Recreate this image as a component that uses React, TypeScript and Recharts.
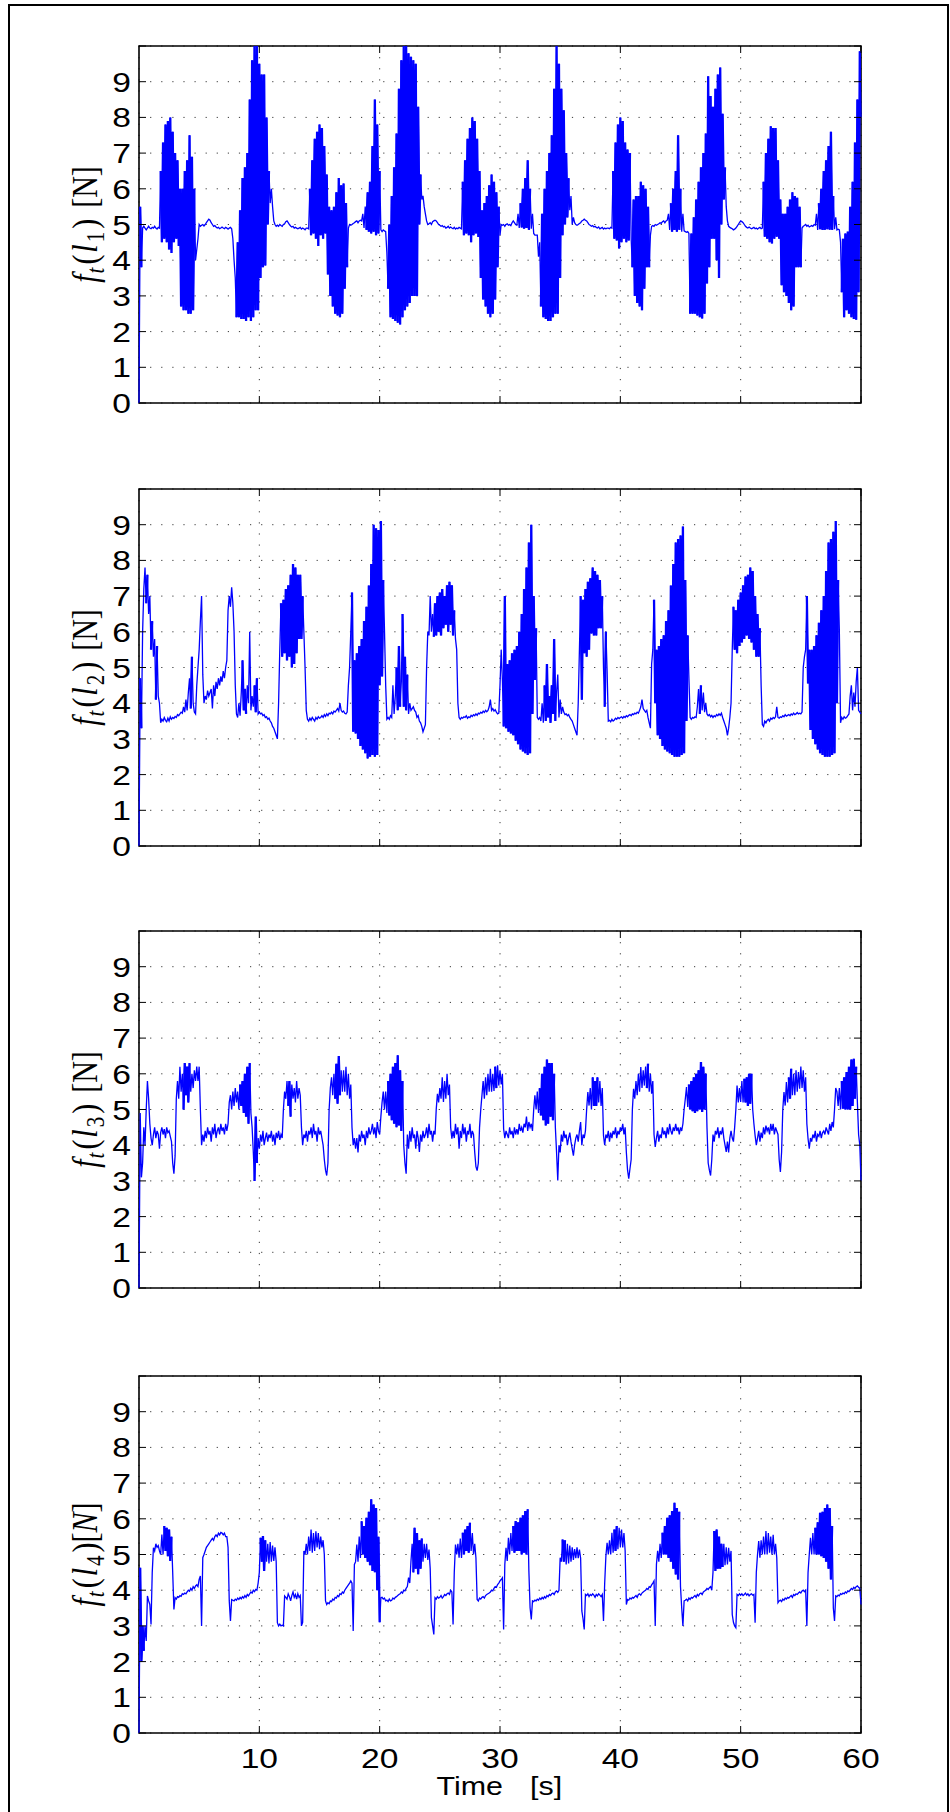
import {
  LineChart,
  Line,
  XAxis,
  YAxis,
  CartesianGrid,
  ReferenceArea,
} from "recharts";

// sample step of the recorded signals, seconds
const DT = 0.1;

const X_TICKS = [10, 20, 30, 40, 50, 60];
const Y_TICKS = [0, 1, 2, 3, 4, 5, 6, 7, 8, 9, 10];

// f_t(l1) [N]
const L1 = [
  0, 5.5, 3.8, 4.9, 4.95, 4.9, 4.85, 4.9, 4.95, 4.9,
  4.88, 4.92, 4.9, 4.95, 4.9, 4.87, 4.92, 4.9, 6.5, 4.5,
  7.3, 4.6, 7.8, 4.5, 7.9, 4.3, 8.0, 4.2, 7.6, 4.5,
  7.0, 4.6, 6.8, 4.4, 6.0, 2.7, 6.0, 2.6, 6.5, 2.6,
  6.8, 2.5, 7.5, 2.5, 6.9, 2.6, 6.0, 4.0, 4.3, 4.6,
  5.0, 4.95, 4.98, 5.0, 4.96, 5.0, 5.05, 5.1, 5.15, 5.12,
  5.05, 5.0, 4.95, 4.97, 4.93, 4.9, 4.92, 4.88, 4.9, 4.93,
  4.9, 4.88, 4.92, 4.9, 4.87, 4.9, 4.92, 4.88, 4.6, 4.0,
  3.5, 2.4, 4.5, 2.4, 5.4, 2.35, 6.3, 2.35, 6.6, 2.3,
  7.0, 2.4, 8.5, 2.3, 9.6, 2.4, 10, 2.6, 10, 2.6,
  9.5, 3.5, 9.2, 3.8, 9.2, 3.85, 8.0, 5.0, 6.5, 5.6,
  6.0, 5.5, 5.1, 5.0, 4.95, 4.98, 4.95, 5.0, 4.97, 4.95,
  5.0, 5.02, 5.08, 5.1, 5.05, 5.0, 4.96, 4.93, 4.95, 4.9,
  4.92, 4.9, 4.88, 4.9, 4.92, 4.87, 4.9, 4.88, 4.85, 4.9,
  4.9, 4.88, 6.0, 4.7, 6.8, 4.75, 7.4, 4.6, 7.6, 4.4,
  7.8, 4.7, 7.7, 4.6, 7.2, 4.75, 6.4, 3.6, 5.5, 3.0,
  5.4, 2.7, 5.5, 2.5, 5.9, 2.45, 6.3, 2.4, 6.1, 2.5,
  6.15, 3.2, 5.6, 3.8, 4.9, 5.0, 4.98, 5.0, 5.03, 5.05,
  5.08, 5.1, 5.05, 5.1, 5.12, 5.1, 5.3, 4.9, 5.5, 4.85,
  5.9, 4.8, 6.2, 4.75, 7.2, 4.8, 8.5, 4.7, 7.8, 4.75,
  6.5, 4.85, 4.8, 4.85, 4.82, 4.8, 4.2, 3.2, 5.0, 2.4,
  5.8, 2.35, 6.6, 2.3, 7.55, 2.25, 8.8, 2.2, 9.6, 2.4,
  10, 2.6, 10, 2.7, 9.8, 2.8, 9.7, 3.0, 9.6, 3.0,
  9.5, 3.0, 8.3, 5.0, 6.4, 5.7, 5.8, 5.5, 5.3, 5.1,
  5.0, 5.02, 5.05, 5.0, 5.08, 5.1, 5.12, 5.1, 5.05, 5.0,
  4.98, 4.95, 4.97, 4.93, 4.95, 4.9, 4.92, 4.95, 4.9, 4.93,
  4.9, 4.88, 4.92, 4.87, 4.9, 4.88, 4.92, 4.9, 4.88, 6.2,
  4.7, 6.8, 4.75, 7.4, 4.7, 7.7, 4.5, 8.0, 4.7, 7.9,
  4.75, 7.4, 4.65, 6.5, 3.5, 5.4, 2.9, 5.6, 2.7, 5.8,
  2.5, 6.1, 2.4, 6.4, 2.5, 6.2, 2.9, 5.9, 3.8, 5.5,
  4.7, 5.0, 4.98, 5.0, 4.95, 5.0, 5.02, 4.98, 5.0, 4.97,
  5.05, 5.1, 5.05, 5.0, 4.98, 5.3, 4.9, 5.6, 4.92, 6.0,
  4.88, 6.3, 4.9, 6.8, 4.85, 6.0, 4.88, 5.3, 4.75, 4.7,
  4.7, 4.7, 4.1, 4.5, 2.7, 5.3, 2.4, 6.0, 2.35, 6.5,
  2.3, 7.0, 2.3, 7.5, 2.4, 8.8, 2.5, 10, 2.5, 9.5,
  3.5, 8.8, 4.7, 8.2, 5.0, 7.0, 5.2, 6.3, 5.4, 5.8,
  5.0, 5.2, 5.05, 5.0, 4.98, 5.0, 5.03, 5.05, 5.1, 5.12,
  5.15, 5.12, 5.1, 5.05, 5.0, 4.98, 4.95, 4.97, 4.93, 4.95,
  4.92, 4.9, 4.93, 4.88, 4.9, 4.92, 4.87, 4.9, 4.88, 4.9,
  4.9, 4.88, 4.92, 4.9, 6.5, 4.6, 7.3, 4.55, 7.8, 4.33,
  8.0, 4.5, 7.9, 4.6, 7.3, 4.5, 7.1, 4.55, 7.0, 4.6,
  3.8, 5.7, 3.0, 5.8, 2.8, 5.8, 2.7, 6.2, 2.6, 6.1,
  3.2, 6.0, 3.8, 5.5, 3.8, 4.7, 4.95, 4.97, 4.95, 5.0,
  4.98, 5.0, 5.02, 5.05, 5.03, 5.08, 5.1, 5.05, 5.1, 5.12,
  5.3, 4.85, 5.6, 4.8, 6.0, 4.85, 6.5, 4.8, 7.5, 4.85,
  6.0, 4.8, 5.3, 4.82, 4.8, 4.78, 4.8, 4.75, 2.5, 4.75,
  2.5, 5.2, 2.5, 5.7, 2.45, 6.2, 2.4, 6.6, 2.37, 7.0,
  2.5, 7.55, 3.35, 9.15, 3.8, 8.6, 4.6, 8.3, 4.6, 8.8,
  4.0, 9.2, 3.5, 9.4, 5.0, 8.1, 5.7, 6.6, 5.5, 5.1,
  4.95, 4.92, 4.9, 4.88, 4.85, 4.87, 4.9, 4.95, 5.0, 5.05,
  5.1, 5.08, 5.05, 5.0, 4.95, 4.92, 4.9, 4.93, 4.9, 4.88,
  4.9, 4.92, 4.88, 4.9, 4.87, 4.9, 4.92, 4.88, 4.9, 6.2,
  4.66, 7.0, 4.6, 7.4, 4.5, 7.75, 4.47, 7.7, 4.6, 7.7,
  4.66, 6.8, 4.6, 5.7, 3.3, 5.3, 3.1, 5.3, 3.0, 5.5,
  2.8, 5.7, 2.6, 5.9, 2.7, 5.8, 3.8, 5.75, 3.8, 5.5,
  3.8, 4.9, 4.95, 4.97, 5.0, 4.95, 4.98, 4.93, 4.95, 4.97,
  4.95, 5.0, 4.98, 5.3, 4.85, 5.6, 4.87, 6.0, 4.85, 6.5,
  4.85, 6.8, 4.87, 7.2, 4.85, 7.6, 4.85, 5.8, 4.87, 5.2,
  4.85, 4.87, 4.85, 4.5, 3.1, 4.6, 2.4, 4.75, 2.6, 4.8,
  2.5, 5.5, 2.4, 6.2, 2.35, 7.3, 2.33, 8.5, 3.1, 9.85,
  8.0,
];

// f_t(l2) [N]
const L2 = [
  0, 4.7, 3.3, 6.0, 7.2, 7.8, 6.8, 7.6, 6.5, 7.0,
  5.5, 6.3, 5.3, 5.8, 4.1, 5.6, 4.2, 4.0, 3.45, 3.55,
  3.5, 3.6, 3.52, 3.48, 3.58, 3.5, 3.62, 3.55, 3.6, 3.57,
  3.63, 3.6, 3.68, 3.65, 3.7, 3.75, 3.72, 3.9, 3.75, 4.1,
  3.8, 4.3, 4.7, 3.85, 5.3, 4.0, 3.75, 3.7, 4.5, 5.0,
  5.5, 6.3, 7.0, 4.8, 4.0, 4.2, 4.1, 4.35, 4.2, 4.3,
  4.4, 3.85, 4.5, 4.2, 4.6, 4.4, 4.7, 4.5, 4.75, 4.6,
  4.9, 4.7, 5.0, 5.2, 6.6, 7.0, 6.7, 7.25, 6.8, 6.0,
  4.5, 3.7, 3.6, 4.0, 3.65, 4.3, 5.2, 3.8, 4.4, 3.7,
  4.5, 4.0, 6.0, 3.8, 4.2, 3.9, 4.5, 3.75, 4.7, 3.7,
  3.75, 3.7, 3.72, 3.65, 3.68, 3.6, 3.62, 3.55, 3.58, 3.5,
  3.45, 3.35, 3.3, 3.2, 3.1, 3.0, 4.0, 5.5, 6.8, 5.3,
  6.9, 5.4, 7.2, 5.2, 7.3, 5.3, 7.6, 5.0, 7.9, 5.1,
  7.8, 5.4, 7.6, 5.8, 7.6, 5.8, 7.0, 6.0, 5.0, 3.8,
  3.55, 3.5, 3.58, 3.52, 3.6, 3.55, 3.5, 3.6, 3.55, 3.62,
  3.58, 3.6, 3.65, 3.6, 3.68, 3.63, 3.7, 3.65, 3.72, 3.7,
  3.75, 3.7, 3.78, 3.75, 3.8, 3.85, 3.78, 4.0, 3.8, 3.75,
  3.78, 3.72, 3.7, 3.75, 4.5, 5.0, 6.0, 7.1, 3.2, 5.2,
  3.15, 5.4, 3.0, 5.6, 2.8, 5.8, 2.7, 6.3, 2.6, 6.7,
  2.45, 7.3, 2.5, 7.9, 2.55, 9.0, 2.5, 8.9, 2.55, 8.85,
  4.5, 9.1, 4.75, 7.45, 6.05, 4.5, 3.55, 3.6, 3.55, 3.65,
  3.6, 4.5, 3.7, 4.2, 5.0, 3.8, 5.6, 3.9, 4.6, 6.5,
  3.9, 5.3, 3.8, 4.8, 3.7, 4.0, 3.8, 3.85, 3.9, 3.8,
  3.75, 3.6, 3.65, 3.5, 3.45, 3.35, 3.2, 3.3, 3.4, 5.0,
  6.0, 5.9, 7.0, 6.0, 6.5, 5.86, 6.8, 5.9, 7.0, 6.0,
  7.1, 5.9, 7.2, 6.1, 7.0, 6.2, 7.3, 6.0, 7.4, 6.2,
  7.3, 5.9, 6.6, 5.8, 5.5, 4.0, 3.6, 3.55, 3.6, 3.58,
  3.62, 3.6, 3.65, 3.58, 3.62, 3.6, 3.66, 3.63, 3.68, 3.65,
  3.7, 3.66, 3.72, 3.7, 3.75, 3.72, 3.78, 3.74, 3.8, 3.76,
  3.8, 3.9, 4.1, 3.8, 3.85, 3.78, 3.82, 3.75, 3.7, 3.72,
  4.5, 5.5, 4.65, 3.35, 7.0, 3.3, 5.1, 3.2, 5.2, 3.15,
  5.4, 3.1, 5.5, 2.95, 5.6, 2.85, 6.0, 2.7, 6.5, 2.65,
  7.2, 2.6, 7.8, 2.55, 8.5, 2.6, 9.0, 3.7, 7.0, 4.65,
  6.1, 3.6, 3.55, 3.6, 3.5, 4.0, 3.45, 4.5, 3.5, 5.1,
  3.6, 4.2, 3.45, 4.5, 3.7, 5.8, 3.5, 4.3, 4.8, 3.6,
  4.1, 3.7, 3.9, 3.75, 3.68, 3.7, 3.65, 3.68, 3.6, 3.55,
  3.5, 3.4, 3.3, 3.2, 3.1, 4.0, 5.5, 7.0, 4.1, 6.9,
  5.4, 7.2, 5.3, 7.4, 5.5, 7.5, 5.95, 7.8, 5.9, 7.7,
  5.9, 7.6, 6.1, 7.45, 6.1, 7.0, 5.0, 3.9, 6.0, 4.9,
  3.5, 3.52, 3.48, 3.55, 3.5, 3.53, 3.58, 3.55, 3.6, 3.57,
  3.6, 3.62, 3.58, 3.63, 3.6, 3.65, 3.62, 3.66, 3.68, 3.65,
  3.7, 3.68, 3.72, 3.7, 3.75, 3.72, 3.8, 3.9, 4.1, 3.85,
  3.8, 3.75, 3.8, 3.6, 3.45, 3.3, 5.1, 5.5, 6.9, 4.0,
  5.5, 3.1, 5.6, 3.0, 5.8, 2.8, 5.9, 2.7, 6.3, 2.65,
  6.6, 2.6, 7.3, 2.55, 7.9, 2.5, 8.5, 2.5, 8.6, 2.5,
  8.7, 2.55, 8.95, 2.6, 7.45, 3.5, 5.9, 4.7, 3.6, 3.55,
  3.6, 3.58, 3.62, 3.6, 3.9, 4.4, 3.7, 4.5, 3.8, 4.3,
  3.75, 4.0, 3.7, 3.65, 3.68, 3.62, 3.66, 3.6, 3.65, 3.62,
  3.68, 3.65, 3.7, 3.66, 3.72, 3.6, 3.5, 3.4, 3.3, 3.1,
  3.3, 3.6, 4.0, 5.5, 6.7, 5.5, 6.6, 5.4, 6.9, 5.6,
  7.1, 5.7, 7.3, 5.8, 7.55, 5.9, 7.6, 5.8, 7.8, 5.7,
  7.7, 5.5, 7.0, 5.3, 6.5, 5.3, 6.1, 4.5, 3.4, 3.35,
  3.5, 3.45, 3.52, 3.55, 3.5, 3.58, 3.55, 3.6, 3.57, 3.62,
  3.9, 3.6, 3.58, 3.62, 3.6, 3.65, 3.62, 3.68, 3.64, 3.66,
  3.68, 3.65, 3.7, 3.67, 3.72, 3.68, 3.7, 3.74, 3.7, 3.72,
  3.7, 3.75, 5.0, 5.3, 5.5, 7.0, 4.55, 5.5, 3.25, 5.5,
  3.0, 5.6, 2.85, 5.9, 2.7, 6.25, 2.6, 6.6, 2.55, 7.0,
  2.5, 7.7, 2.5, 8.5, 2.5, 8.6, 2.55, 8.8, 2.6, 9.1,
  4.0, 7.45, 6.05, 3.45, 3.6, 3.55, 3.62, 3.58, 3.6, 3.65,
  3.7, 4.2, 4.5, 3.8, 4.3, 3.9, 4.6, 5.0, 3.8, 3.75,
  3.7,
];

// f_t(l3) [N]
const L3 = [
  0, 4.9, 3.1, 3.5, 4.5, 4.0, 5.0, 5.8, 5.3, 4.6,
  4.2, 4.0, 4.3, 4.5, 4.2, 4.4, 4.3, 3.9, 4.35, 4.5,
  4.3, 4.45, 4.2, 4.5, 4.35, 4.4, 4.25, 4.1, 3.5, 3.2,
  3.7, 5.3, 5.8, 5.3, 6.2, 5.5, 6.0, 5.0, 6.3, 5.4,
  6.2, 5.2, 6.3, 5.5, 6.0, 5.6, 6.1, 5.8, 6.2, 5.8,
  6.2, 5.0, 4.0, 4.3, 4.1, 4.4, 4.2, 4.5, 4.3, 4.4,
  4.1, 4.5, 4.3, 4.6, 4.2, 4.4, 4.5, 4.3, 4.6, 4.4,
  4.5, 4.3, 4.6, 4.4, 4.6, 5.2, 5.4, 5.0, 5.5, 5.1,
  5.6, 5.2, 5.5, 5.0, 5.7, 5.1, 5.8, 4.9, 6.0, 4.8,
  6.2, 4.6, 6.3, 4.9, 4.5, 3.8, 3.0, 4.8, 3.5, 4.2,
  3.9, 4.3, 4.1, 4.4, 4.0, 4.2, 4.35, 4.1, 4.3, 4.2,
  4.4, 4.1, 4.3, 4.0, 4.35, 4.2, 4.4, 4.15, 4.3, 4.2,
  5.0, 5.5, 5.3, 5.8, 5.1, 5.8, 4.8, 5.7, 5.3, 5.6,
  5.2, 5.8, 5.3, 5.6, 5.4, 4.5, 4.0, 4.3, 4.2, 4.4,
  4.1, 4.4, 4.3, 4.5, 4.2, 4.6, 4.3, 4.4, 4.1, 4.5,
  4.3, 4.4, 4.2, 4.0, 3.6, 3.3, 3.15, 3.5, 5.0, 5.6,
  5.9, 5.4, 6.0, 5.3, 6.28, 5.16, 6.5, 5.4, 6.1, 5.5,
  6.1, 5.5, 6.2, 5.4, 6.0, 5.3, 5.7, 4.5, 4.0, 4.2,
  3.9, 4.2, 3.8, 4.3, 4.1, 4.4, 4.2, 4.3, 4.0, 4.4,
  4.2, 4.5, 4.3, 4.4, 4.6, 4.3, 4.5, 4.2, 4.65, 4.4,
  4.3, 4.8, 5.2, 5.5, 5.0, 5.5, 4.9, 5.8, 4.83, 6.0,
  4.7, 6.2, 4.6, 6.3, 4.5, 6.52, 4.55, 6.1, 4.4, 5.8,
  4.0, 3.5, 3.2, 4.3, 3.9, 4.4, 4.1, 4.5, 4.2, 4.3,
  3.9, 4.4, 4.2, 3.81, 4.3, 4.1, 4.4, 4.2, 4.3, 4.5,
  4.2, 4.6, 4.3, 4.4, 4.1, 4.4, 4.3, 5.0, 5.44, 5.2,
  5.6, 5.3, 5.9, 5.21, 5.8, 5.3, 6.0, 5.4, 5.7, 4.5,
  4.18, 4.4, 4.2, 4.6, 4.3, 4.5, 3.9, 4.4, 4.2, 4.6,
  4.3, 4.5, 4.1, 4.4, 4.3, 4.6, 4.2, 4.4, 4.3, 3.8,
  3.4, 3.29, 3.5, 4.5, 5.0, 5.4, 5.8, 5.3, 5.9, 5.4,
  6.0, 5.5, 6.14, 5.5, 6.0, 5.52, 6.2, 5.6, 6.24, 5.67,
  6.1, 5.7, 6.0, 4.46, 4.2, 4.4, 4.3, 4.2, 4.5, 4.3,
  4.4, 4.2, 4.5, 4.3, 4.45, 4.3, 4.6, 4.4, 4.5, 4.35,
  4.6, 4.5, 4.8, 4.4, 4.65, 4.5, 4.6, 4.4, 5.0, 5.4,
  5.0, 5.5, 4.9, 5.6, 4.83, 6.0, 4.7, 6.2, 4.55, 6.4,
  4.6, 6.3, 4.8, 6.3, 4.7, 6.0, 4.5, 3.8, 3.01, 4.0,
  3.8, 4.3, 4.1, 4.4, 4.2, 4.3, 4.0, 4.2, 4.35, 4.1,
  3.9, 3.71, 4.0, 4.2, 4.3, 4.1, 4.4, 4.65, 4.0, 4.3,
  4.2, 4.4, 5.0, 5.49, 5.11, 5.6, 5.0, 5.9, 5.1, 5.8,
  5.1, 5.9, 5.2, 5.8, 5.1, 5.6, 4.27, 4.0, 4.3, 4.2,
  4.4, 4.1, 4.35, 4.2, 4.4, 4.3, 4.5, 4.2, 4.4, 4.3,
  4.5, 4.4, 4.6, 4.3, 4.5, 3.8, 3.3, 3.06, 3.34, 3.6,
  5.0, 5.58, 5.3, 5.8, 5.4, 6.0, 5.5, 6.19, 5.6, 6.1,
  5.67, 6.2, 5.6, 6.28, 5.5, 6.0, 5.44, 5.8, 4.3, 3.95,
  4.2, 4.4, 4.1, 4.3, 4.2, 4.5, 4.3, 4.4, 4.2, 4.5,
  4.3, 4.6, 4.4, 4.3, 4.5, 4.4, 4.6, 4.4, 4.5, 4.3,
  4.5, 4.4, 4.6, 5.0, 5.3, 5.63, 5.07, 5.7, 5.0, 5.8,
  4.95, 5.9, 4.9, 6.0, 4.95, 6.1, 5.0, 6.33, 4.93, 6.2,
  5.0, 6.0, 4.5, 3.5, 3.3, 3.15, 3.6, 4.3, 4.1, 4.4,
  4.3, 4.5, 4.2, 4.4, 4.3, 4.5, 4.2, 4.0, 3.81, 4.1,
  3.8, 4.2, 4.4, 4.2, 4.1, 4.5, 5.0, 5.67, 5.2, 5.6,
  5.21, 5.8, 5.2, 5.86, 5.2, 5.9, 5.1, 6.0, 5.16, 6.0,
  5.0, 4.6, 4.27, 4.0, 4.2, 4.4, 4.1, 4.35, 4.2, 4.5,
  4.3, 4.55, 4.4, 4.5, 4.3, 4.6, 4.4, 4.6, 4.3, 4.5,
  4.4, 4.3, 3.6, 3.25, 3.8, 5.0, 5.49, 5.11, 5.77, 5.2,
  5.9, 5.3, 6.14, 5.4, 6.0, 5.4, 6.1, 5.5, 6.05, 5.58,
  6.2, 5.6, 6.1, 5.5, 5.9, 4.6, 4.18, 3.9, 4.2, 4.1,
  4.3, 4.2, 4.4, 4.1, 4.3, 4.25, 4.4, 4.2, 4.35, 4.4,
  4.3, 4.5, 4.4, 4.3, 4.6, 4.4, 4.65, 4.5, 5.0, 5.6,
  5.5, 5.1, 5.6, 5.0, 5.8, 5.02, 5.9, 5.0, 6.05, 5.0,
  6.2, 5.0, 6.4, 5.1, 6.42, 5.3, 6.2, 5.2, 4.3, 4.0,
  3.01,
];

// f_t(l4) [N]
const L4 = [
  0, 4.63, 2.0, 3.0, 2.3, 3.0, 2.58, 3.84, 3.7, 3.6,
  3.04, 4.5, 5.19, 5.1, 5.3, 5.2, 5.25, 5.1, 5.0, 5.56,
  5.0, 5.8, 5.1, 5.75, 4.95, 5.7, 4.82, 5.5, 4.5, 3.46,
  3.79, 3.75, 3.82, 3.8, 3.85, 3.83, 3.9, 3.88, 3.92, 3.9,
  3.95, 4.0, 3.97, 4.05, 4.0, 4.1, 4.05, 4.12, 4.15, 4.1,
  4.3, 4.4, 3.0, 4.91, 5.0, 5.1, 5.2, 5.25, 5.3, 5.35,
  5.4, 5.45, 5.4, 5.5, 5.55, 5.5, 5.6, 5.55, 5.62, 5.6,
  5.55, 5.6, 5.5, 5.5, 5.2, 3.7, 3.14, 3.74, 3.72, 3.7,
  3.75, 3.72, 3.78, 3.74, 3.8, 3.76, 3.82, 3.78, 3.85, 3.8,
  3.88, 3.84, 3.9, 3.95, 3.92, 4.0, 3.96, 4.02, 4.0, 4.2,
  4.5, 5.47, 4.8, 5.52, 4.54, 5.4, 4.8, 5.3, 4.75, 5.35,
  4.8, 5.25, 4.82, 5.2, 4.8, 3.09, 3.0, 3.05, 3.0, 3.02,
  3.0, 3.84, 3.8, 3.75, 3.9, 3.82, 3.7, 3.85, 3.95, 3.8,
  3.88, 3.75, 3.9, 3.8, 3.85, 3.0, 3.1, 5.1, 5.0, 5.3,
  5.0, 5.5, 5.1, 5.7, 5.05, 5.6, 5.1, 5.65, 5.2, 5.6,
  5.15, 5.5, 5.2, 5.4, 5.0, 3.7, 3.6, 3.65, 3.62, 3.7,
  3.68, 3.75, 3.72, 3.8, 3.78, 3.85, 3.82, 3.9, 3.88, 3.95,
  3.92, 4.0, 4.05, 4.1, 4.15, 4.2, 4.26, 4.2, 2.86, 4.72,
  4.8, 5.28, 4.8, 5.5, 4.9, 5.93, 5.0, 5.8, 4.9, 6.03,
  4.8, 6.2, 4.7, 6.55, 4.54, 6.4, 4.5, 6.3, 4.0, 5.5,
  3.1, 3.79, 3.8, 3.75, 3.78, 3.7, 3.72, 3.68, 3.75, 3.7,
  3.72, 3.78, 3.75, 3.8, 3.82, 3.85, 3.88, 3.9, 3.95, 3.92,
  4.0, 3.98, 4.05, 4.1, 4.35, 4.2, 4.8, 5.3, 4.5, 5.75,
  4.6, 5.6, 4.45, 5.4, 4.6, 5.45, 4.8, 5.3, 4.9, 5.3,
  4.85, 5.14, 4.6, 3.23, 3.0, 2.76, 3.79, 3.75, 3.82, 3.78,
  3.8, 3.85, 3.78, 3.82, 3.88, 3.85, 3.9, 3.92, 3.88, 4.0,
  3.95, 3.04, 4.5, 5.28, 5.0, 5.3, 4.91, 5.45, 4.9, 5.61,
  5.0, 5.7, 5.1, 5.8, 5.05, 5.89, 5.1, 5.6, 5.0, 5.3,
  4.9, 3.74, 3.7, 3.78, 3.75, 3.8, 3.82, 3.78, 3.85, 3.88,
  3.9, 3.92, 3.95, 4.0, 3.98, 4.05, 4.1, 4.08, 4.16, 4.2,
  4.26, 4.3, 4.35, 2.9, 4.72, 5.19, 4.82, 5.47, 5.0, 5.6,
  5.1, 5.8, 5.05, 5.94, 5.1, 5.9, 5.1, 6.03, 5.0, 6.1,
  5.05, 6.22, 5.0, 6.27, 4.54, 3.51, 3.18, 3.7, 3.68, 3.72,
  3.7, 3.75, 3.72, 3.78, 3.74, 3.8, 3.76, 3.82, 3.78, 3.85,
  3.82, 3.88, 3.85, 3.9, 3.92, 3.88, 3.95, 3.98, 3.94, 4.0,
  4.91, 4.8, 5.42, 4.8, 5.4, 4.72, 5.3, 4.75, 5.25, 4.8,
  5.2, 4.85, 5.15, 4.9, 5.2, 4.9, 5.14, 4.9, 3.42, 3.2,
  2.9, 3.88, 3.85, 3.9, 3.82, 3.88, 3.85, 3.9, 3.86, 3.8,
  3.88, 3.84, 3.9, 3.86, 3.82, 3.88, 3.14, 4.2, 4.96, 5.33,
  5.0, 5.4, 5.0, 5.61, 5.05, 5.7, 5.1, 5.8, 5.15, 5.75,
  5.2, 5.7, 5.2, 5.6, 5.1, 3.6, 3.74, 3.72, 3.78, 3.75,
  3.8, 3.78, 3.82, 3.85, 3.8, 3.88, 3.9, 3.86, 3.92, 3.95,
  3.98, 4.0, 4.05, 4.02, 4.1, 4.08, 4.15, 4.2, 4.26, 3.0,
  4.72, 5.1, 4.8, 5.3, 4.9, 5.61, 5.0, 5.8, 5.0, 6.03,
  4.9, 6.1, 4.8, 6.22, 4.6, 6.45, 4.44, 6.3, 4.3, 6.2,
  4.1, 3.5, 3.0, 3.7, 3.72, 3.75, 3.7, 3.78, 3.74, 3.8,
  3.78, 3.82, 3.85, 3.8, 3.88, 3.84, 3.9, 3.92, 3.88, 3.95,
  3.98, 4.0, 4.05, 4.02, 4.07, 4.1, 4.0, 4.5, 5.66, 4.54,
  5.7, 4.6, 5.5, 4.6, 5.3, 4.65, 5.3, 4.7, 5.2, 4.72,
  5.19, 4.8, 5.1, 3.32, 3.1, 3.0, 2.95, 3.88, 3.85, 3.9,
  3.86, 3.9, 3.85, 3.88, 3.92, 3.86, 3.9, 3.84, 3.88, 3.9,
  3.86, 3.88, 3.09, 4.5, 5.0, 5.38, 4.91, 5.4, 5.0, 5.5,
  5.0, 5.66, 5.0, 5.6, 5.05, 5.5, 5.0, 5.55, 5.0, 5.3,
  4.9, 3.65, 3.7, 3.72, 3.68, 3.75, 3.72, 3.78, 3.75, 3.8,
  3.78, 3.82, 3.85, 3.8, 3.88, 3.85, 3.9, 3.88, 3.92, 3.95,
  3.92, 3.98, 4.0, 3.96, 4.0, 3.0, 4.5, 5.0, 5.47, 5.0,
  5.6, 5.0, 5.75, 5.0, 5.9, 5.0, 6.17, 4.95, 6.2, 4.9,
  6.3, 4.8, 6.4, 4.6, 6.3, 4.3, 5.8, 3.5, 3.14, 3.84,
  3.82, 3.86, 3.84, 3.9, 3.88, 3.92, 3.9, 3.95, 3.92, 3.98,
  3.96, 4.0, 4.05, 4.02, 4.08, 4.05, 4.1, 4.12, 4.08, 4.05,
  3.6,
];

const C = {
  line: "#0000ff",
  ink: "#000000",
  grid: "#3a3a3a",
};

const SANS = "'Liberation Sans', Arial, Helvetica, sans-serif";
const SERIF = "'Liberation Serif', 'Times New Roman', serif";

// layout of the four stacked axes (page pixels)
const PLOT_LEFT = 139;
const PLOT_W = 722;
const PLOT_H = 357;
const PANEL_TOPS = [46, 489, 931, 1376];
const PAD_TOP = 10;
const PAD_BOTTOM = 80;
const YAXIS_W = 60;
const XAXIS_H = 30;
const TICK_LEN = 7;
const STRETCH = 1.2; // the exported figure is a bit wider than tall
const TICK_FS = 28;
const ZIGZAG = 0.6; // sample-to-sample swing that counts as fast oscillation

// the fast-oscillating stretches get drawn a second time with a heavier pen,
// so they read as the dense blue bands of the 1 kHz recording
function toRows(values: number[]) {
  const zig = values.map((v, i) => {
    if (i === 0 || i === values.length - 1) return false;
    const a = v - values[i - 1];
    const b = values[i + 1] - v;
    return a * b < 0 && Math.abs(a) > ZIGZAG && Math.abs(b) > ZIGZAG;
  });
  return values.map((v, i) => {
    const dense = zig[i] && (zig[i - 1] || zig[i + 1]);
    return { t: Math.round(i * DT * 10) / 10, v, b: dense ? v : null };
  });
}

function XTick(props: any) {
  const { x, y, payload, show } = props;
  return (
    <g>
      <line x1={x} x2={x} y1={y} y2={y - TICK_LEN} stroke={C.ink} strokeWidth={1} />
      <line x1={x} x2={x} y1={y - PLOT_H} y2={y - PLOT_H + TICK_LEN} stroke={C.ink} strokeWidth={1} />
      {show && (
        <text
          transform={`translate(${x},${y + 35}) scale(${STRETCH},1)`}
          textAnchor="middle"
          fontFamily={SANS}
          fontSize={TICK_FS}
          fill={C.ink}
        >
          {payload.value}
        </text>
      )}
    </g>
  );
}

function YTick(props: any) {
  const { x, y, payload } = props;
  return (
    <g>
      <line x1={x} x2={x + TICK_LEN} y1={y} y2={y} stroke={C.ink} strokeWidth={1} />
      <line x1={x + PLOT_W - TICK_LEN} x2={x + PLOT_W} y1={y} y2={y} stroke={C.ink} strokeWidth={1} />
      {payload.value < 10 && (
        <text
          transform={`translate(${x - 8},${y + 10}) scale(${STRETCH},1)`}
          textAnchor="end"
          fontFamily={SANS}
          fontSize={TICK_FS}
          fill={C.ink}
        >
          {payload.value}
        </text>
      )}
    </g>
  );
}

function Panel({ values, top, showX }: { values: number[]; top: number; showX: boolean }) {
  const data = toRows(values);
  return (
    <div style={{ position: "absolute", left: 0, top: top - PAD_TOP }}>
      <LineChart
        width={950}
        height={PAD_TOP + PLOT_H + PAD_BOTTOM}
        data={data}
        margin={{
          top: PAD_TOP,
          right: 950 - PLOT_LEFT - PLOT_W,
          bottom: PAD_BOTTOM - XAXIS_H,
          left: PLOT_LEFT - YAXIS_W,
        }}
      >
        <CartesianGrid stroke={C.grid} strokeWidth={1} strokeDasharray="1.2 9.9" />
        <XAxis
          dataKey="t"
          type="number"
          domain={[0, 60]}
          ticks={X_TICKS}
          interval={0}
          height={XAXIS_H}
          axisLine={false}
          tickLine={false}
          tickSize={0}
          tickMargin={0}
          tick={(p: any) => <XTick {...p} show={showX} />}
        />
        <YAxis
          type="number"
          domain={[0, 10]}
          ticks={Y_TICKS}
          interval={0}
          width={YAXIS_W}
          axisLine={false}
          tickLine={false}
          tickSize={0}
          tickMargin={0}
          tick={(p: any) => <YTick {...p} />}
        />
        <Line
          type="linear"
          dataKey="v"
          stroke={C.line}
          strokeWidth={1.3}
          dot={false}
          activeDot={false}
          isAnimationActive={false}
        />
        <Line
          type="linear"
          dataKey="b"
          stroke={C.line}
          strokeWidth={2.3}
          dot={false}
          activeDot={false}
          connectNulls={false}
          isAnimationActive={false}
        />
        <ReferenceArea
          x1={0}
          x2={60}
          y1={0}
          y2={10}
          fill="none"
          stroke={C.ink}
          strokeWidth={1.6}
        />
      </LineChart>
    </div>
  );
}

// rotated y label, typeset like LaTeX math: f_t(l_k) [N]
function YLabel({ cy, k, tight }: { cy: number; k: number; tight?: boolean }) {
  return (
    <text
      transform={`translate(97,${cy}) scale(${STRETCH},1) rotate(-90)`}
      textAnchor="middle"
      fontFamily={SERIF}
      fontSize={30}
      fill={C.ink}
    >
      <tspan fontStyle="italic">f</tspan>
      <tspan fontStyle="italic" fontSize={21} dx={1} dy={6}>t</tspan>
      <tspan dx={3} dy={-6}>(</tspan>
      <tspan fontStyle="italic" dx={2}>l</tspan>
      <tspan fontSize={21} dx={2} dy={6}>{k}</tspan>
      <tspan dx={3} dy={-6}>)</tspan>
      {tight ? (
        <>
          <tspan>[</tspan>
          <tspan fontStyle="italic">N</tspan>
          <tspan>]</tspan>
        </>
      ) : (
        <tspan dx={11}>[N]</tspan>
      )}
    </text>
  );
}

export default function App() {
  const series = [L1, L2, L3, L4];
  return (
    <div
      style={{
        position: "absolute",
        left: 0,
        top: 0,
        width: 950,
        height: 1812,
        background: "#fff",
        overflow: "hidden",
      }}
    >
      {series.map((s, i) => (
        <Panel key={i} values={s} top={PANEL_TOPS[i]} showX={i === 3} />
      ))}
      <svg
        width={950}
        height={1812}
        style={{ position: "absolute", left: 0, top: 0, pointerEvents: "none" }}
      >
        <rect x={9} y={5} width={939} height={1830} fill="none" stroke={C.ink} strokeWidth={2} />
        {PANEL_TOPS.map((t, i) => (
          <YLabel key={i} cy={t + PLOT_H / 2} k={i + 1} tight={i === 3} />
        ))}
        <text
          transform={`translate(503,1795) scale(1.17,1)`}
          textAnchor="end"
          fontFamily={SANS}
          fontSize={26}
          fill={C.ink}
        >
          Time
        </text>
        <text
          transform={`translate(530,1795) scale(1.17,1)`}
          textAnchor="start"
          fontFamily={SANS}
          fontSize={26}
          fill={C.ink}
        >
          [s]
        </text>
      </svg>
    </div>
  );
}
